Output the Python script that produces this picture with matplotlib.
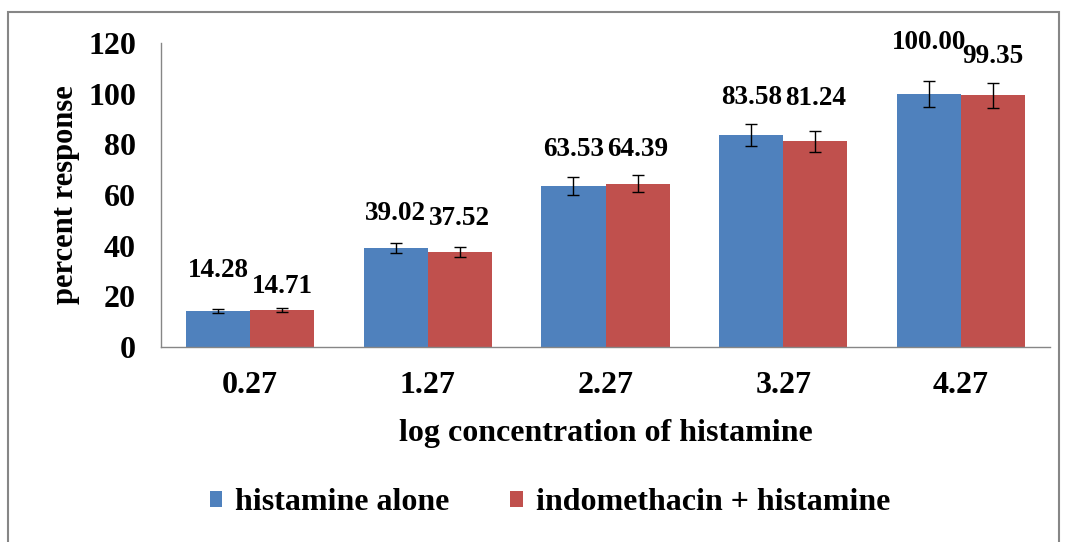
import numpy as np
import matplotlib
matplotlib.use("Agg")
import matplotlib.pyplot as plt
from matplotlib.patches import Rectangle

# data
categories = ["0.27", "1.27", "2.27", "3.27", "4.27"]
histamine_alone = [14.28, 39.02, 63.53, 83.58, 100.00]
indomethacin_histamine = [14.71, 37.52, 64.39, 81.24, 99.35]
err_alone = [0.8, 2.1, 3.4, 4.3, 5.1]
err_indo = [0.8, 1.9, 3.4, 4.1, 4.9]

# label offsets above bar top (points), as placed in the original
dy_alone = [29, 25, 26, 27, 37]
dy_indo = [17, 24, 25, 31, 28]

blue = "#4F81BD"
red = "#C0504D"
grey = "#868686"

plt.rcParams['font.family'] = ['Liberation Serif', 'DejaVu Serif']
plt.rcParams['font.weight'] = 'bold'

fig = plt.figure(figsize=(10.67, 5.42), dpi=100)
ax = fig.add_axes([161/1067, 1-347/542, (1050-161)/1067, (347-43)/542])

x = np.arange(len(categories))
w = 0.36
b1 = ax.bar(x - w/2, histamine_alone, w, color=blue, label="histamine alone",
            yerr=err_alone, capsize=4.5, error_kw=dict(elinewidth=1, capthick=1, ecolor="black"))
b2 = ax.bar(x + w/2, indomethacin_histamine, w, color=red, label="indomethacin + histamine",
            yerr=err_indo, capsize=4.5, error_kw=dict(elinewidth=1, capthick=1, ecolor="black"))

for xi, v, d in zip(x - w/2, histamine_alone, dy_alone):
    ax.annotate(f"{v:.2f}", (xi, v), xytext=(0, d), textcoords="offset points",
                ha="center", va="center", fontsize=19.5, fontweight="bold")
for xi, v, d in zip(x + w/2, indomethacin_histamine, dy_indo):
    ax.annotate(f"{v:.2f}", (xi, v), xytext=(0, d), textcoords="offset points",
                ha="center", va="center", fontsize=19.5, fontweight="bold")

ax.set_xlim(-0.5, len(categories) - 0.5)
ax.set_ylim(0, 120)
ax.set_yticks(range(0, 121, 20))
ax.set_xticks(x)
ax.set_xticklabels(categories)
ax.tick_params(axis="both", length=0, labelsize=23)
ax.tick_params(axis="x", pad=17)
ax.tick_params(axis="y", pad=18)
for s in ["top", "right"]:
    ax.spines[s].set_visible(False)
for s in ["left", "bottom"]:
    ax.spines[s].set_color(grey)
    ax.spines[s].set_linewidth(1)

ax.set_xlabel("log concentration of histamine", fontsize=23, fontweight="bold", labelpad=14)
ax.set_ylabel("percent response", fontsize=22, fontweight="bold", labelpad=6)

fig.legend(handles=[b1, b2], loc="center", bbox_to_anchor=(550/1067, 1-503/542),
           ncol=2, frameon=False, fontsize=23, handlelength=0.4, handleheight=0.4,
           columnspacing=1.9, handletextpad=0.4)

fig.patches.append(Rectangle((8/1067, -0.05), (1059-8)/1067, 1-12/542+0.05,
                             transform=fig.transFigure, fill=False, edgecolor=grey, linewidth=1.5))

plt.savefig("out.png", dpi=100)
